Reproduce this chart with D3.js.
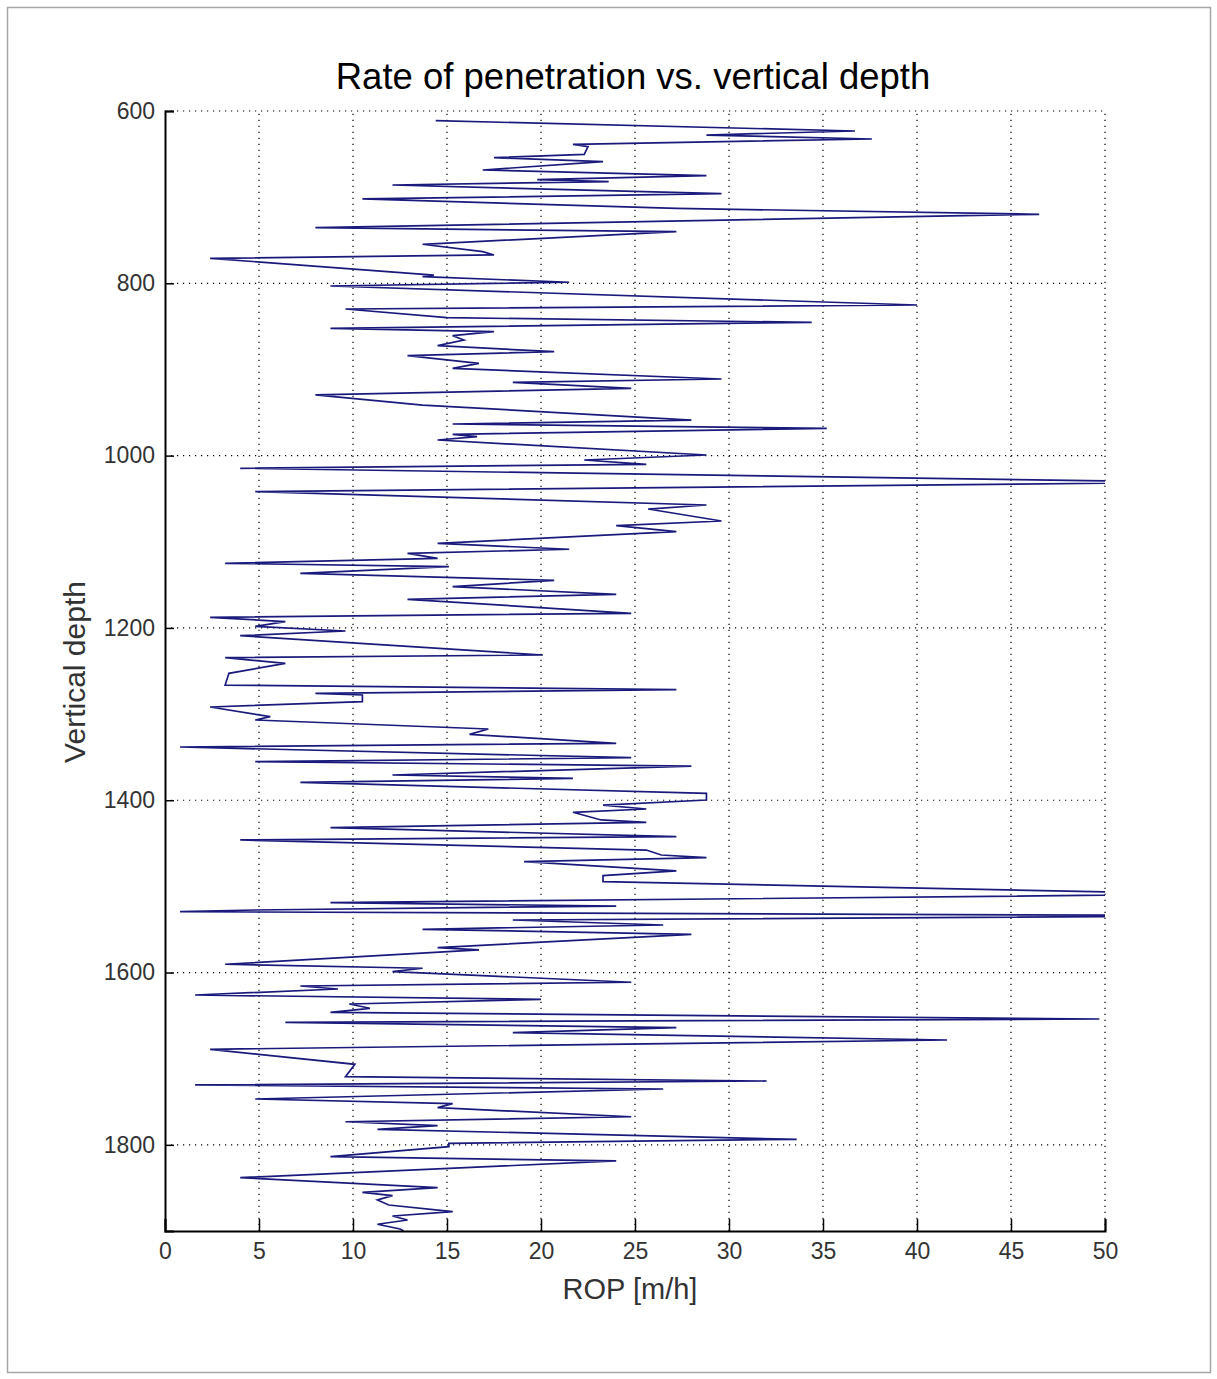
<!DOCTYPE html>
<html>
<head>
<meta charset="utf-8">
<script src="https://cdn.jsdelivr.net/npm/d3@7"></script>
<style>
  html, body { margin: 0; padding: 0; background: #fff; }
  svg { display: block; }
  text { font-family: "Liberation Sans", Arial, sans-serif; }
</style>
</head>
<body>
<script>
// ---- data ----
const depthValues = [
  611.2, 623.2, 627.9, 632.5, 638.7, 641.4, 650.3, 654.2, 658.8, 668.5, 675.1, 679.7, 682.0, 685.9, 696.0, 702.1, 713.0,
  719.9, 735.4, 740.1, 754.7, 763.3, 767.1, 771.0, 790.4, 792.3, 798.8, 803.1, 825.2, 829.8,
  839.9, 845.3, 852.3, 856.1, 860.8, 865.8, 872.4, 879.4, 884.0, 892.9, 898.7, 911.1, 915.0, 921.9, 929.6, 941.3,
  958.7, 963.3, 968.3, 975.3, 978.0, 981.9, 999.3, 1005.1, 1010.1, 1014.7, 1031.0, 1041.9,
  1057.3, 1062.0, 1075.9, 1081.3, 1088.3, 1101.8, 1108.7, 1113.4, 1119.2, 1125.0, 1128.9, 1136.6, 1144.7, 1152.1, 1161.0, 1166.8,
  1183.0, 1187.7, 1192.7, 1198.1, 1203.6, 1209.0, 1231.4, 1234.5, 1241.1, 1252.7, 1266.3, 1271.6, 1275.9, 1277.8, 1285.6, 1291.8,
  1303.0, 1306.9, 1317.3, 1323.5, 1333.9, 1338.2, 1350.6, 1355.3, 1360.3, 1370.7, 1374.6, 1379.3, 1392.0, 1399.8, 1405.6,
  1410.2, 1414.0, 1422.9, 1425.6, 1431.8, 1442.3, 1446.1, 1457.8, 1463.6, 1466.7, 1471.3, 1482.1, 1487.5, 1494.5, 1509.0, 1518.9, 1522.8, 1527.4,
  1529.4, 1534.0, 1539.0, 1544.8, 1549.8, 1555.6, 1571.1, 1573.8, 1590.4, 1595.0, 1598.9, 1611.3, 1615.6, 1619.1, 1626.1, 1631.1, 1636.5, 1641.5,
  1646.2, 1653.9, 1657.8, 1664.0, 1669.8, 1678.3, 1689.1, 1706.5, 1720.9, 1725.9, 1730.5, 1735.2, 1746.8, 1752.2, 1756.8,
  1767.4, 1773.2, 1777.8, 1782.0, 1793.6, 1798.2, 1802.1, 1813.7, 1818.7, 1838.1, 1849.7, 1855.1, 1859.0, 1864.0, 1869.8, 1877.6, 1882.6, 1887.2, 1892.2, 1897.7, 1900.0
];
const ropValues = [
  14.4, 36.7, 28.8, 37.6, 21.7, 22.5, 22.3, 17.5, 23.3, 16.9, 28.8, 19.8, 23.6, 12.1, 29.6, 10.5, 27.2,
  46.5, 8.0, 27.2, 13.7, 16.9, 17.5, 2.4, 14.3, 13.7, 21.5, 8.8, 40.0, 9.6,
  15.0, 34.4, 8.8, 17.5, 15.3, 15.9, 14.5, 20.7, 12.9, 16.7, 15.3, 29.6, 18.5, 24.8, 8.0, 13.7,
  28.0, 15.3, 35.2, 15.3, 16.6, 14.5, 28.8, 22.3, 25.6, 4.0, 55.0, 4.8,
  28.8, 25.7, 29.6, 24.0, 27.2, 14.5, 21.5, 12.9, 14.5, 3.2, 15.1, 7.2, 20.7, 15.3, 24.0, 12.9,
  24.8, 2.4, 6.4, 4.8, 9.6, 4.0, 20.1, 3.2, 6.4, 3.4, 3.2, 27.2, 8.0, 10.5, 10.5, 2.4,
  5.6, 4.8, 17.2, 16.2, 24.0, 0.8, 24.8, 4.8, 28.0, 12.1, 21.7, 7.2, 28.8, 28.8, 23.3,
  25.6, 21.7, 23.2, 25.6, 8.8, 27.2, 4.0, 25.6, 26.4, 28.8, 19.1, 27.2, 23.3, 23.3, 56.0, 8.8, 24.0, 4.8,
  0.8, 58.0, 18.5, 26.5, 13.7, 28.0, 14.5, 16.7, 3.2, 13.7, 12.1, 24.8, 7.2, 9.2, 1.6, 20.0, 9.8, 10.9,
  8.8, 49.7, 6.4, 27.2, 18.5, 41.6, 2.4, 10.1, 9.6, 32.0, 1.6, 26.5, 4.8, 15.3, 14.5,
  24.8, 9.6, 14.5, 11.3, 33.6, 15.1, 15.1, 8.8, 24.0, 4.0, 14.5, 10.5, 12.1, 11.3, 11.9, 15.3, 12.1, 12.9, 11.3, 12.5, 12.7
];
const xTicks = [0, 5, 10, 15, 20, 25, 30, 35, 40, 45, 50];
const yTicks = [600, 800, 1000, 1200, 1400, 1600, 1800];
const titleText = "Rate of penetration vs. vertical depth";
const xLabel = "ROP [m/h]";
const yLabel = "Vertical depth";

// ---- drawing ----
const W = 1217, H = 1379;
const svg = d3.select("body").append("svg").attr("width", W).attr("height", H);

// outer figure frame
svg.append("rect").attr("x", 7.5).attr("y", 7.5).attr("width", 1203).attr("height", 1365)
  .attr("fill", "#fff").attr("stroke", "#a6a6a6").attr("stroke-width", 1.5);

const x = d3.scaleLinear().domain([0, 50]).range([165, 1105]);
const y = d3.scaleLinear().domain([600, 1900]).range([111, 1231]);

// grid (dotted)
const grid = svg.append("g").attr("stroke", "#000").attr("stroke-width", 1.2)
  .attr("stroke-dasharray", "1.2,4.8").attr("fill", "none");
xTicks.filter(t => t > 0).forEach(t => {
  grid.append("line").attr("x1", x(t)).attr("x2", x(t)).attr("y1", y(1900)).attr("y2", y(600));
});
yTicks.forEach(t => {
  grid.append("line").attr("x1", x(0)).attr("x2", x(50)).attr("y1", y(t)).attr("y2", y(t));
});

// data line
svg.append("clipPath").attr("id", "plotclip").append("rect")
  .attr("x", x(0)).attr("y", y(600)).attr("width", x(50) - x(0)).attr("height", y(1900) - y(600));
const pts = depthValues.map((d, i) => [ropValues[i], d]);
const line = d3.line().x(p => x(p[0])).y(p => y(p[1]));
svg.append("path").datum(pts).attr("d", line).attr("clip-path", "url(#plotclip)")
  .attr("fill", "none").attr("stroke", "#1a1a7c").attr("stroke-width", 1.7).attr("stroke-linejoin", "miter");

// axes
const xAxis = d3.axisBottom(x).tickValues(xTicks).tickSize(-12).tickPadding(20).tickFormat(d3.format("d"));
const gx = svg.append("g").attr("transform", `translate(0,${y(1900)})`).call(xAxis);
const yAxis = d3.axisLeft(y).tickValues(yTicks).tickSize(-9).tickPadding(19).tickFormat(d3.format("d"));
const gy = svg.append("g").attr("transform", `translate(${x(0)},0)`).call(yAxis);
[gx, gy].forEach(g => {
  g.select(".domain").attr("stroke", "#000").attr("stroke-width", 2);
  g.selectAll(".tick line").attr("stroke", "#000").attr("stroke-width", 1.5);
  g.selectAll(".tick text").attr("fill", "#333").style("font-size", "23px")
    .style("font-family", "'Liberation Sans', Arial, sans-serif");
});
gx.selectAll(".tick text").attr("dy", "0.71em").attr("y", 12);
gy.selectAll(".tick text").attr("x", -10);

// title & labels
svg.append("text").attr("x", 633).attr("y", 89).attr("text-anchor", "middle")
  .style("font-size", "36.5px").attr("fill", "#000").text(titleText);
svg.append("text").attr("x", 630).attr("y", 1299).attr("text-anchor", "middle")
  .style("font-size", "29px").attr("fill", "#333").text(xLabel);
svg.append("text").attr("transform", "translate(85,672) rotate(-90)").attr("text-anchor", "middle")
  .style("font-size", "30px").attr("fill", "#333").text(yLabel);
</script>
</body>
</html>
